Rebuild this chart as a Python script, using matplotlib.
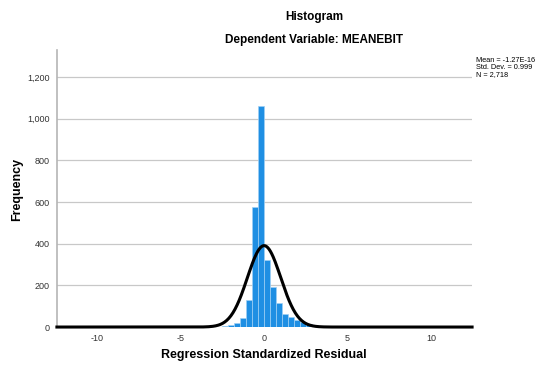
import matplotlib.pyplot as plt
import numpy as np

plt.rcParams['font.family'] = ['Liberation Sans', 'DejaVu Sans']
plt.rcParams['axes.unicode_minus'] = False

# residual histogram, bin width 0.36, one edge at zero
bin_left = [-2.88, -2.52, -2.16, -1.80, -1.44, -1.08, -0.72, -0.36, 0.00,
            0.36, 0.72, 1.08, 1.44, 1.80, 2.16, 2.52, 2.88, 3.24]
counts = [2, 4, 10, 21, 44, 130, 577, 1061, 320,
          191, 117, 64, 46, 34, 22, 13, 8, 5]
bin_width = 0.36

mean = -1.27e-16
std_dev = 0.999
n_obs = 2718

x_ticks = [-10, -5, 0, 5, 10]
y_ticks = [0, 200, 400, 600, 800, 1000, 1200]

fig = plt.figure(figsize=(5.42, 3.65), dpi=100)
ax = fig.add_axes([0.105, 0.104, 0.766, 0.759])

ax.bar(bin_left, counts, width=bin_width, align='edge',
       color='#1f8fe3', edgecolor='#9fd0f5', linewidth=0.5, zorder=2)

# normal curve scaled to the histogram
xs = np.linspace(-12.4, 12.45, 600)
ys = n_obs * bin_width / (np.sqrt(2 * np.pi) * std_dev) * \
    np.exp(-0.5 * ((xs - mean) / std_dev) ** 2)
ax.plot(xs, ys, color='black', linewidth=2.2, zorder=3, clip_on=False)

ax.set_xlim(-12.4, 12.45)
ax.set_ylim(0, 1330)
ax.set_xticks(x_ticks)
ax.set_yticks(y_ticks)
ax.set_yticklabels([f'{v:,}' for v in y_ticks])
ax.tick_params(length=0, labelsize=6.5, colors='#333333', pad=5)
ax.yaxis.grid(True, color='#c8c8c8', linewidth=0.9, zorder=0)
ax.set_axisbelow(True)

for side in ['top', 'right', 'bottom']:
    ax.spines[side].set_visible(False)
ax.spines['left'].set_color('#b5b5b5')
ax.spines['left'].set_linewidth(1.2)

# axis titles placed in figure coordinates
fig.text(0.487, 0.027, 'Regression Standardized Residual', ha='center',
         va='center', fontsize=9, fontweight='bold')
fig.text(0.032, 0.48, 'Frequency', ha='center', va='center', rotation=90,
         fontsize=9, fontweight='bold')

fig.text(0.579, 0.953, 'Histogram', ha='center', va='center',
         fontsize=8.5, fontweight='bold')
fig.text(0.579, 0.890, 'Dependent Variable: MEANEBIT', ha='center', va='center',
         fontsize=8.5, fontweight='bold')

fig.text(0.878, 0.815,
         f'Mean = -1.27E-16\nStd. Dev. = {std_dev}\nN = {n_obs:,}',
         ha='left', va='center', fontsize=5.3, linespacing=1.05)

fig.savefig('out.png', dpi=100)
